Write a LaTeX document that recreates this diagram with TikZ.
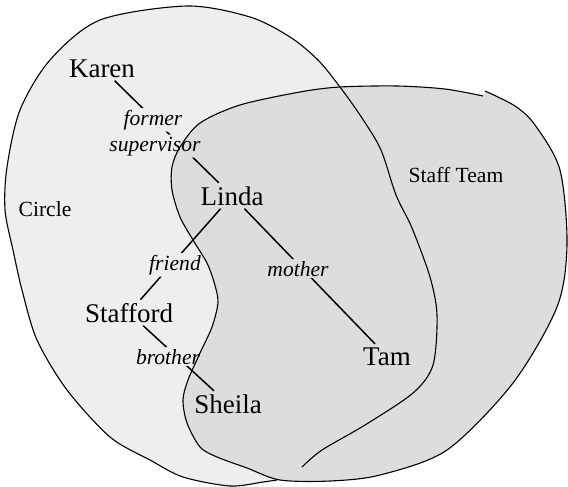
\documentclass[tikz,border=0pt]{standalone}
\usepackage{fontspec}
\setmainfont{Liberation Serif}
\definecolor{circlefill}{HTML}{EEEEEE}
\definecolor{stafffill}{HTML}{DDDDDD}
% the two hand drawn blobs, in pixel coordinates
\newcommand\circleblob{plot[smooth] coordinates {(277,480) (263,482) (230,486) (183,477) (150,460) (110,437) (67,390) (37,340) (22,290) (13,250) (5,210) (7,167) (20,110) (50,60) (100,20) (187,6) (250,17) (290,37) (318,60) (340,87) (362,118) (381,150) (396,195) (412,228) (430,277) (437,315) (433,365) (413,393) (365,425) (322,450) (302,467)}}
\newcommand\staffblob{plot[smooth] coordinates {(485,91) (515,106) (535,125) (560,170) (567,245) (557,307) (513,383) (447,450) (380,475) (330,481) (280,480) (247,468) (217,457) (200,447) (187,423) (183,400) (188,380) (200,353) (212,327) (218,302) (214,282) (207,263) (193,240) (180,217) (172,190) (172,167) (180,147) (200,123) (240,105) (300,92) (340,87) (397,86) (445,89) (483,96)}}
\newcommand\gapbox[1]{(#1.south west) rectangle (#1.north east)}
\begin{document}
\begin{tikzpicture}[x=0.5pt,y=-0.5pt,
		person/.style={font=\fontsize{13.5}{16}\selectfont, inner sep=1.5pt, anchor=base},
		rel/.style={font=\fontsize{10.8}{13}\selectfont\itshape, inner sep=0.8pt, anchor=base},
		region/.style={font=\fontsize{10.8}{13}\selectfont, anchor=base},
		tie/.style={line width=0.75pt},
		outline/.style={line width=0.55pt}]
	\useasboundingbox (0,0) rectangle (568,487);
	\fill[circlefill] \circleblob;
	\fill[stafffill] \staffblob;
	
	\node[region] (circlelbl) at (45,216) {Circle};
	\node[region] (stafflbl) at (456,182) {Staff Team};
	
	\node[person] (karen) at (102,77) {Karen};
	\node[person] (linda) at (232,205) {Linda};
	\node[person] (stafford) at (129,322) {Stafford};
	\node[person] (sheila) at (228,413) {Sheila};
	\node[person] (tam) at (387,365) {Tam};
	
	\node[rel] (former) at (153,125) {former};
	\node[rel] (supervisor) at (155,151) {supervisor};
	\node[rel] (friend) at (175,270) {friend};
	\node[rel] (brother) at (168,364) {brother};
	\node[rel] (mother) at (298,276) {mother};
	
	% ties stop at the relation labels
	\begin{scope}[even odd rule]
		\clip (0,0) rectangle (568,487) \gapbox{former} \gapbox{supervisor} \gapbox{friend} \gapbox{brother} \gapbox{mother};
		\draw[tie] (karen) -- (linda);
		\draw[tie] (linda) -- (stafford);
		\draw[tie] (linda) -- (tam);
		\draw[tie] (stafford) -- (sheila);
	\end{scope}
	
	\draw[outline] \circleblob;
	\draw[outline] \staffblob;
\end{tikzpicture}
\end{document}
